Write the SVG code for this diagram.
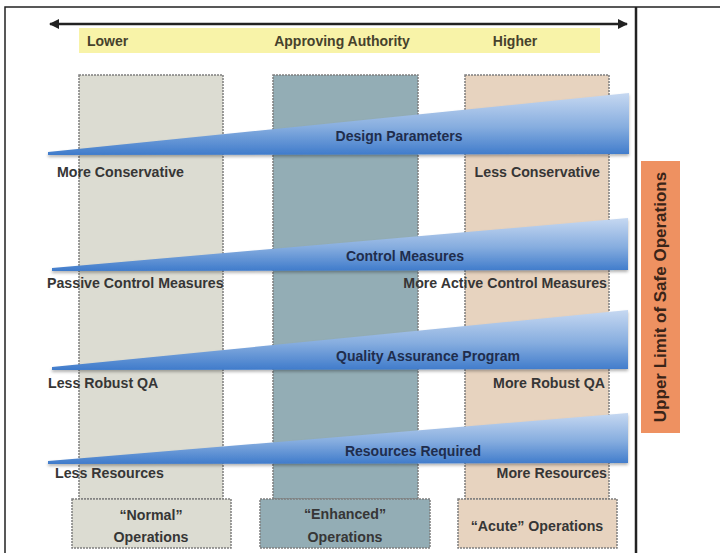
<svg xmlns="http://www.w3.org/2000/svg" width="720" height="553" viewBox="0 0 720 553">
<defs>
<style>
.t{font-family:"Liberation Sans",Arial,sans-serif;font-weight:bold;font-size:14.2px;fill:#363636}
.w{font-family:"Liberation Sans",Arial,sans-serif;font-weight:bold;font-size:14px;fill:#1f2d4d}
.top{font-family:"Liberation Sans",Arial,sans-serif;font-weight:bold;font-size:14px;fill:#46422c}
.col{stroke:#7f7f7f;stroke-width:1.5;stroke-dasharray:2 1}
.g1{fill:#dcdcd2}
.g2{fill:#93adb5}
.g3{fill:#e7d3bf}
.wedge{fill:url(#wg);filter:url(#sh)}
</style>
<linearGradient id="wg" x1="0" y1="0" x2="0" y2="1">
<stop offset="0" stop-color="#c6d8f1"/>
<stop offset="0.55" stop-color="#86addf"/>
<stop offset="1" stop-color="#3f7bcb"/>
</linearGradient>
<filter id="sh" x="-5%" y="-20%" width="110%" height="150%">
<feDropShadow dx="0" dy="2" stdDeviation="1.5" flood-color="#000" flood-opacity="0.3"/>
</filter>
<marker id="ah" viewBox="0 0 10 10" refX="9" refY="5" markerWidth="4" markerHeight="4" orient="auto-start-reverse">
<path d="M0,0 L10,5 L0,10 z" fill="#222"/>
</marker>
</defs>
<rect x="0" y="0" width="720" height="553" fill="#fff"/>
<g id="frame">
<path d="M5,553 V7 H720" fill="none" stroke="#222" stroke-width="1.5"/>
<line x1="636" y1="7" x2="636" y2="553" stroke="#222" stroke-width="2.5"/>
</g>
<g id="authority">
<rect x="79" y="28" width="521" height="25" fill="#f8f3a8"/>
<text class="top" x="87" y="46">Lower</text>
<text class="top" x="342" y="46" text-anchor="middle">Approving Authority</text>
<text class="top" x="515" y="46" text-anchor="middle">Higher</text>
</g>
<g id="connectors">
<line x1="50" y1="24" x2="627" y2="24" stroke="#222" stroke-width="2.5" marker-start="url(#ah)" marker-end="url(#ah)"/>
</g>
<g id="col-normal"><rect class="col g1" x="79" y="75" width="144" height="424"/></g>
<g id="col-enhanced"><rect class="col g2" x="273" y="75" width="145" height="424"/></g>
<g id="col-acute"><rect class="col g3" x="465" y="75" width="144" height="424"/></g>
<g id="box-normal">
<rect class="col g1" x="72" y="499" width="159" height="49"/>
<text class="t" x="151" y="520" text-anchor="middle">“Normal”</text>
<text class="t" x="151" y="542" text-anchor="middle">Operations</text>
</g>
<g id="box-enhanced">
<rect class="col g2" x="260" y="499" width="170" height="49"/>
<text class="t" x="345" y="519" text-anchor="middle">“Enhanced”</text>
<text class="t" x="345" y="542" text-anchor="middle">Operations</text>
</g>
<g id="box-acute">
<rect class="col g3" x="458" y="499" width="159" height="49"/>
<text class="t" x="537" y="531" text-anchor="middle">“Acute” Operations</text>
</g>
<g id="design-parameters">
<polygon class="wedge" points="48,152 629,93 629,154 48,155"/>
<text class="w" x="399" y="141" text-anchor="middle">Design Parameters</text>
<text class="t" x="57" y="177">More Conservative</text>
<text class="t" x="600" y="177" text-anchor="end">Less Conservative</text>
</g>
<g id="control-measures">
<polygon class="wedge" points="52,268 628,218 628,270 52,271"/>
<text class="w" x="405" y="261" text-anchor="middle">Control Measures</text>
<text class="t" x="47" y="288">Passive Control Measures</text>
<text class="t" x="607" y="288" text-anchor="end">More Active Control Measures</text>
</g>
<g id="quality-assurance">
<polygon class="wedge" points="52,367 628,310 628,369 52,370"/>
<text class="w" x="428" y="361" text-anchor="middle">Quality Assurance Program</text>
<text class="t" x="48" y="388">Less Robust QA</text>
<text class="t" x="605" y="388" text-anchor="end">More Robust QA</text>
</g>
<g id="resources-required">
<polygon class="wedge" points="48,461 628,413 628,463 48,464"/>
<text class="w" x="413" y="456" text-anchor="middle">Resources Required</text>
<text class="t" x="55" y="478">Less Resources</text>
<text class="t" x="607" y="478" text-anchor="end">More Resources</text>
</g>
<g id="upper-limit">
<rect x="641" y="161" width="39" height="272" fill="#ee9161"/>
<text class="top" x="0" y="0" text-anchor="middle" transform="translate(666,297) rotate(-90)" style="font-size:17px;fill:#3a2418">Upper Limit of Safe Operations</text>
</g>
</svg>
